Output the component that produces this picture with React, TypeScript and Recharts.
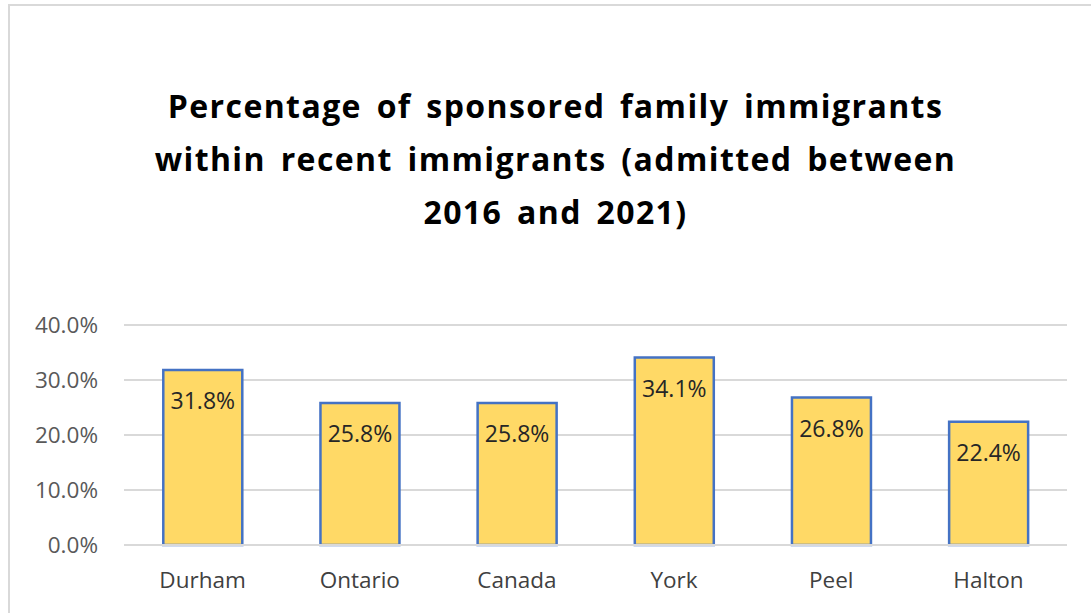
import { BarChart, Bar, XAxis, YAxis, CartesianGrid, LabelList } from 'recharts'

const regions = ['Durham', 'Ontario', 'Canada', 'York', 'Peel', 'Halton']
const sponsoredShare = [31.8, 25.8, 25.8, 34.1, 26.8, 22.4]
const yTicks = [0, 10, 20, 30, 40]
const titleLines = [
  'Percentage of sponsored family immigrants',
  'within recent immigrants (admitted between',
  '2016 and 2021)',
]

const data = regions.map((name, i) => ({ name, value: sponsoredShare[i] }))

const FONT = '"Open Sans", Lato, sans-serif'

export default function App() {
  return (
    <div style={{ position: 'absolute', left: 0, top: 0, width: 1091, height: 613, overflow: 'hidden', background: '#fff', fontFamily: FONT }}>
      {/* chart frame, runs off the right/bottom edge like the source */}
      <div style={{ position: 'absolute', left: 8, top: 4, width: 1120, height: 640, border: '2px solid #d9d9d9', boxSizing: 'border-box' }} />

      <div style={{ position: 'absolute', left: 0, top: 79, width: 1111, textAlign: 'center', fontWeight: 700, fontSize: 32, lineHeight: '53px', letterSpacing: 1.4, wordSpacing: 5, color: '#000' }}>
        {titleLines.map(l => <div key={l}>{l}</div>)}
      </div>

      <div style={{ position: 'absolute', left: 0, top: 0 }}>
        <BarChart
          width={1091}
          height={613}
          data={data}
          margin={{ top: 325, right: 24, bottom: 38, left: 44 }}
          barCategoryGap="25%"
        >
          <CartesianGrid vertical={false} stroke="#d9d9d9" strokeWidth={2} />
          <XAxis
            dataKey="name"
            axisLine={{ stroke: '#d9d9d9', strokeWidth: 2 }}
            tickLine={false}
            tickSize={0}
            tickMargin={27}
            tick={{ fill: '#404040', fontSize: 22.5, fontFamily: FONT }}
          />
          <YAxis
            width={80}
            domain={[0, 40]}
            ticks={yTicks}
            axisLine={false}
            tickLine={false}
            tickSize={0}
            tickMargin={26}
            tickFormatter={(v: number) => `${v.toFixed(1)}%`}
            tick={{ fill: '#595959', fontSize: 22.5, fontFamily: FONT }}
          />
          <Bar dataKey="value" fill="#FFD966" stroke="#4472C4" strokeWidth={2.5} isAnimationActive={false}>
            <LabelList
              dataKey="value"
              position="insideTop"
              offset={23}
              formatter={(v: number) => `${v.toFixed(1)}%`}
              style={{ fill: '#262626', fontSize: 23, fontFamily: FONT }}
            />
          </Bar>
        </BarChart>
      </div>
    </div>
  )
}
